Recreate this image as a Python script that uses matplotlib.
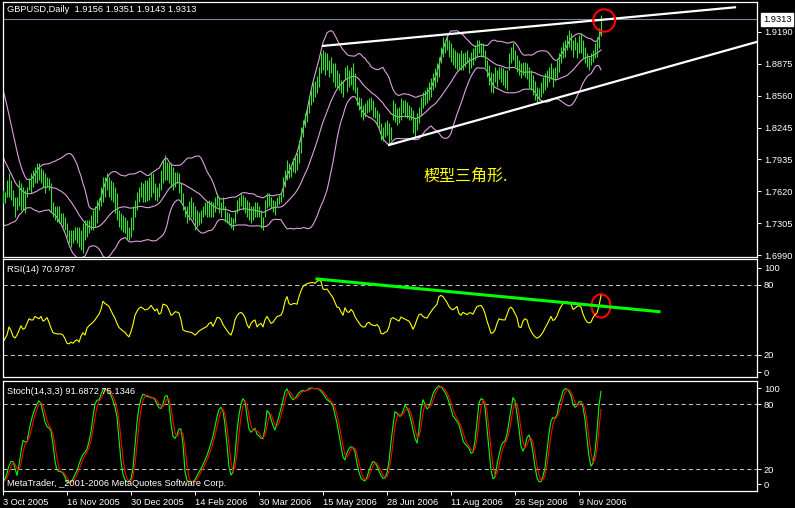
import matplotlib.pyplot as plt
import matplotlib.transforms as mtransforms
from matplotlib.patches import Ellipse
import numpy as np
import pandas as pd

plt.rcParams['font.family'] = ['Liberation Sans', 'Noto Sans CJK SC', 'DejaVu Sans']
FontSize = 6.7

# closes of the bars before the first visible one (only feed the Bollinger bands)
warmup_close = [1.850, 1.845, 1.842, 1.838, 1.832, 1.826, 1.818, 1.810, 1.800, 1.792,
                1.785, 1.778, 1.772, 1.768, 1.765, 1.762, 1.760, 1.758, 1.757]

high = [
    1.763, 1.761, 1.773, 1.780, 1.773, 1.763, 1.756, 1.756, 1.773, 1.770,
    1.766, 1.763, 1.766, 1.775, 1.780, 1.783, 1.786, 1.790, 1.790, 1.785,
    1.783, 1.780, 1.776, 1.775, 1.770, 1.751, 1.747, 1.747, 1.747, 1.741,
    1.741, 1.737, 1.731, 1.724, 1.724, 1.724, 1.727, 1.727, 1.727, 1.724,
    1.731, 1.734, 1.734, 1.734, 1.739, 1.744, 1.747, 1.753, 1.755, 1.766,
    1.776, 1.776, 1.780, 1.776, 1.773, 1.771, 1.766, 1.760, 1.744, 1.741,
    1.739, 1.737, 1.734, 1.727, 1.737, 1.747, 1.753, 1.761, 1.766, 1.771,
    1.770, 1.773, 1.773, 1.776, 1.780, 1.780, 1.770, 1.766, 1.770, 1.783,
    1.793, 1.798, 1.791, 1.790, 1.790, 1.786, 1.781, 1.781, 1.780, 1.770,
    1.760, 1.747, 1.747, 1.752, 1.756, 1.751, 1.747, 1.744, 1.742, 1.744,
    1.747, 1.751, 1.752, 1.753, 1.752, 1.751, 1.756, 1.760, 1.756, 1.751,
    1.756, 1.747, 1.742, 1.741, 1.737, 1.736, 1.744, 1.753, 1.756, 1.760,
    1.758, 1.756, 1.753, 1.751, 1.747, 1.747, 1.751, 1.751, 1.747, 1.744,
    1.737, 1.753, 1.760, 1.760, 1.756, 1.753, 1.752, 1.756, 1.758, 1.760,
    1.776, 1.783, 1.793, 1.790, 1.786, 1.795, 1.796, 1.800, 1.812, 1.825,
    1.832, 1.839, 1.844, 1.855, 1.862, 1.869, 1.870, 1.875, 1.884, 1.898,
    1.901, 1.899, 1.898, 1.891, 1.894, 1.888, 1.888, 1.881, 1.878, 1.871,
    1.871, 1.884, 1.886, 1.881, 1.884, 1.888, 1.878, 1.865, 1.855, 1.854,
    1.847, 1.849, 1.852, 1.854, 1.855, 1.852, 1.845, 1.842, 1.839, 1.829,
    1.825, 1.830, 1.832, 1.829, 1.825, 1.852, 1.849, 1.844, 1.845, 1.854,
    1.852, 1.852, 1.850, 1.847, 1.845, 1.842, 1.835, 1.839, 1.845, 1.855,
    1.860, 1.862, 1.865, 1.869, 1.873, 1.878, 1.883, 1.888, 1.894, 1.904,
    1.914, 1.911, 1.914, 1.911, 1.908, 1.903, 1.901, 1.899, 1.898, 1.901,
    1.898, 1.899, 1.901, 1.894, 1.899, 1.903, 1.906, 1.911, 1.911, 1.908,
    1.908, 1.901, 1.891, 1.886, 1.879, 1.878, 1.884, 1.881, 1.884, 1.884,
    1.883, 1.881, 1.881, 1.898, 1.904, 1.908, 1.901, 1.896, 1.891, 1.888,
    1.889, 1.889, 1.888, 1.884, 1.881, 1.876, 1.870, 1.865, 1.864, 1.869,
    1.874, 1.878, 1.881, 1.884, 1.888, 1.883, 1.884, 1.891, 1.898, 1.904,
    1.909, 1.911, 1.916, 1.921, 1.918, 1.911, 1.914, 1.909, 1.916, 1.918,
    1.911, 1.904, 1.898, 1.894, 1.898, 1.901, 1.908, 1.914, 1.923, 1.9351,
]

low = [
    1.750, 1.750, 1.756, 1.756, 1.753, 1.747, 1.737, 1.744, 1.747, 1.744,
    1.744, 1.741, 1.756, 1.763, 1.760, 1.766, 1.770, 1.770, 1.773, 1.770,
    1.766, 1.760, 1.766, 1.763, 1.742, 1.737, 1.734, 1.732, 1.731, 1.731,
    1.727, 1.724, 1.717, 1.711, 1.707, 1.711, 1.714, 1.711, 1.707, 1.704,
    1.701, 1.714, 1.717, 1.721, 1.724, 1.724, 1.727, 1.731, 1.744, 1.747,
    1.751, 1.756, 1.763, 1.756, 1.753, 1.751, 1.741, 1.734, 1.727, 1.724,
    1.722, 1.721, 1.714, 1.714, 1.717, 1.724, 1.737, 1.744, 1.751, 1.756,
    1.751, 1.751, 1.752, 1.753, 1.756, 1.760, 1.753, 1.752, 1.756, 1.763,
    1.770, 1.773, 1.773, 1.770, 1.766, 1.763, 1.766, 1.770, 1.760, 1.751,
    1.744, 1.737, 1.731, 1.734, 1.737, 1.734, 1.724, 1.727, 1.729, 1.731,
    1.737, 1.739, 1.737, 1.737, 1.737, 1.737, 1.742, 1.747, 1.741, 1.737,
    1.744, 1.732, 1.731, 1.729, 1.726, 1.724, 1.731, 1.741, 1.744, 1.747,
    1.744, 1.741, 1.737, 1.734, 1.731, 1.734, 1.737, 1.737, 1.737, 1.726,
    1.724, 1.737, 1.746, 1.747, 1.746, 1.742, 1.739, 1.747, 1.749, 1.751,
    1.756, 1.766, 1.773, 1.775, 1.776, 1.781, 1.780, 1.783, 1.790, 1.800,
    1.815, 1.825, 1.830, 1.839, 1.847, 1.850, 1.855, 1.859, 1.865, 1.878,
    1.881, 1.876, 1.881, 1.874, 1.878, 1.869, 1.865, 1.864, 1.862, 1.859,
    1.855, 1.872, 1.860, 1.865, 1.867, 1.862, 1.859, 1.847, 1.842, 1.835,
    1.832, 1.835, 1.839, 1.840, 1.842, 1.835, 1.834, 1.827, 1.824, 1.812,
    1.811, 1.815, 1.817, 1.808, 1.812, 1.832, 1.830, 1.827, 1.829, 1.832,
    1.839, 1.835, 1.834, 1.832, 1.832, 1.819, 1.815, 1.822, 1.829, 1.837,
    1.844, 1.847, 1.849, 1.852, 1.855, 1.862, 1.865, 1.869, 1.874, 1.888,
    1.894, 1.898, 1.901, 1.894, 1.889, 1.886, 1.883, 1.881, 1.881, 1.881,
    1.881, 1.884, 1.888, 1.878, 1.883, 1.886, 1.891, 1.894, 1.898, 1.894,
    1.894, 1.884, 1.874, 1.867, 1.860, 1.859, 1.869, 1.865, 1.872, 1.869,
    1.867, 1.864, 1.862, 1.881, 1.888, 1.891, 1.884, 1.879, 1.876, 1.873,
    1.876, 1.874, 1.872, 1.864, 1.862, 1.857, 1.852, 1.850, 1.852, 1.855,
    1.859, 1.862, 1.865, 1.869, 1.872, 1.865, 1.870, 1.873, 1.879, 1.888,
    1.893, 1.894, 1.901, 1.904, 1.901, 1.894, 1.901, 1.893, 1.898, 1.898,
    1.893, 1.888, 1.884, 1.881, 1.886, 1.889, 1.893, 1.894, 1.903, 1.9143,
]

close = [
    1.757, 1.758, 1.770, 1.762, 1.758, 1.750, 1.745, 1.752, 1.768, 1.750,
    1.762, 1.755, 1.764, 1.772, 1.768, 1.778, 1.780, 1.778, 1.786, 1.775,
    1.779, 1.768, 1.773, 1.767, 1.745, 1.742, 1.740, 1.739, 1.737, 1.736,
    1.730, 1.727, 1.720, 1.715, 1.718, 1.716, 1.722, 1.716, 1.712, 1.718,
    1.725, 1.720, 1.730, 1.731, 1.735, 1.738, 1.742, 1.748, 1.752, 1.762,
    1.772, 1.768, 1.770, 1.766, 1.760, 1.755, 1.748, 1.740, 1.733, 1.731,
    1.728, 1.726, 1.720, 1.718, 1.732, 1.742, 1.750, 1.757, 1.762, 1.765,
    1.762, 1.760, 1.763, 1.766, 1.772, 1.765, 1.760, 1.764, 1.760, 1.778,
    1.786, 1.785, 1.784, 1.776, 1.772, 1.775, 1.777, 1.776, 1.764, 1.754,
    1.746, 1.741, 1.738, 1.744, 1.748, 1.740, 1.735, 1.737, 1.740, 1.741,
    1.743, 1.745, 1.748, 1.750, 1.742, 1.746, 1.752, 1.755, 1.746, 1.749,
    1.746, 1.736, 1.734, 1.731, 1.729, 1.733, 1.742, 1.750, 1.753, 1.755,
    1.752, 1.746, 1.741, 1.738, 1.741, 1.743, 1.745, 1.740, 1.742, 1.738,
    1.735, 1.750, 1.754, 1.751, 1.749, 1.750, 1.751, 1.753, 1.754, 1.757,
    1.773, 1.779, 1.785, 1.779, 1.781, 1.790, 1.788, 1.797, 1.808, 1.820,
    1.828, 1.832, 1.840, 1.851, 1.858, 1.862, 1.864, 1.872, 1.880, 1.893,
    1.895, 1.882, 1.889, 1.879, 1.885, 1.872, 1.870, 1.868, 1.866, 1.862,
    1.858, 1.880, 1.868, 1.870, 1.877, 1.872, 1.862, 1.852, 1.846, 1.842,
    1.840, 1.844, 1.847, 1.846, 1.845, 1.843, 1.844, 1.833, 1.827, 1.818,
    1.817, 1.820, 1.822, 1.823, 1.824, 1.846, 1.843, 1.840, 1.838, 1.848,
    1.846, 1.845, 1.844, 1.843, 1.838, 1.825, 1.832, 1.837, 1.843, 1.845,
    1.852, 1.850, 1.858, 1.862, 1.866, 1.872, 1.876, 1.880, 1.892, 1.898,
    1.902, 1.900, 1.903, 1.899, 1.894, 1.893, 1.895, 1.897, 1.886, 1.885,
    1.891, 1.889, 1.890, 1.891, 1.890, 1.888, 1.896, 1.902, 1.903, 1.903,
    1.898, 1.889, 1.878, 1.871, 1.864, 1.866, 1.870, 1.877, 1.876, 1.875,
    1.875, 1.876, 1.879, 1.892, 1.895, 1.893, 1.888, 1.884, 1.875, 1.878,
    1.884, 1.885, 1.883, 1.870, 1.866, 1.862, 1.858, 1.856, 1.858, 1.860,
    1.864, 1.869, 1.873, 1.877, 1.882, 1.876, 1.878, 1.883, 1.890, 1.896,
    1.899, 1.900, 1.901, 1.905, 1.903, 1.898, 1.902, 1.903, 1.905, 1.902,
    1.897, 1.892, 1.889, 1.887, 1.889, 1.895, 1.897, 1.910, 1.916, 1.9313,
]

rsi = [
    31, 34, 37, 44, 41, 36, 34.5, 37, 41, 45,
    42, 43, 47, 51, 50, 50, 53, 52, 51, 53,
    49, 50, 52, 48, 43, 39, 38.5, 38, 38, 38,
    37, 34, 30, 29.5, 31, 30, 32, 33, 31, 36,
    39, 37, 43, 45, 46.5, 48, 50, 52.5, 55, 59,
    66, 64, 63, 61.5, 58, 54.5, 51.4, 47, 43.5, 42,
    40.5, 39.4, 37, 35.5, 40, 46, 54, 57.5, 60, 61,
    60, 58.5, 59, 60, 62.5, 60, 57.7, 59.5, 55, 56,
    63.5, 63, 62, 58.5, 54, 55, 57, 56.7, 56, 50,
    41.5, 40.5, 40, 39.7, 39.4, 38.5, 37, 38.5, 40.5, 41.5,
    42.7, 43.5, 44.5, 47, 48, 44.5, 48, 52, 52, 50,
    46, 43.5, 41, 38.5, 37, 42, 50, 53.5, 55.7, 56.4,
    55, 52, 46, 43, 47, 49, 50, 44, 46, 47,
    44, 50, 53, 50, 47, 48, 50.5, 52.8, 53.5, 54,
    58, 66, 70, 64, 63, 64, 64, 63.5, 70, 75,
    78.5, 80, 81, 81.5, 82, 82, 81.4, 83, 84, 83,
    76.5, 76, 76.5, 74, 71.5, 69, 65, 61, 60.5, 57,
    54, 60.5, 57, 56.5, 59, 57, 52.8, 50, 47.5, 45,
    44, 44, 47, 48, 46, 45.5, 45, 46, 44, 38.5,
    38, 39.4, 40, 44, 51, 52, 51, 50, 49, 52.5,
    51.5, 50.7, 50, 49, 46, 42, 45.5, 50.5, 54.5, 55,
    53, 52, 51.5, 54.5, 57, 59.5, 61.5, 63.5, 70, 71,
    70, 67.5, 65, 61.5, 59.5, 58.7, 60, 61.5, 55.5, 54,
    56.5, 55.5, 54.5, 56, 56, 55, 58.5, 61.5, 62, 62.5,
    60, 55.7, 49, 44, 38.5, 39, 41.4, 47, 51, 50.3,
    50, 50, 54.5, 59.5, 61, 59, 55.5, 52, 44, 43.5,
    49, 51, 50, 44, 40.5, 37.5, 35.5, 34.3, 35.3, 37,
    39.5, 43, 46, 49.5, 53, 49.5, 50.5, 53.5, 58, 61.5,
    64, 65, 65.5, 64.7, 63.5, 59, 60, 61.5, 62.3, 61,
    55, 51, 48.3, 47.3, 48, 52, 54.5, 56, 62, 70.98,
]

stoch_k = [
    8, 11, 16, 23, 27, 27, 20.7, 14, 24, 36,
    46.5, 45, 45, 55, 64, 70.5, 76, 80, 83, 80.5,
    72, 63.5, 59, 58, 55, 43, 27, 19, 17.7, 17.5,
    16, 12.5, 8, 7, 7.8, 11, 15, 18.5, 24.5, 29.5,
    33.5, 35.5, 38.5, 45.5, 54.5, 69, 80, 83.7, 83.7, 89,
    93.5, 94, 92.5, 90.5, 88, 83, 77, 68, 48, 27,
    15, 10, 8.3, 8.3, 11, 21, 42, 63, 77, 85,
    89, 88.5, 86.8, 86.8, 85.7, 86, 84, 80, 76.5, 76,
    80, 87, 88, 80, 62, 50, 48.4, 51.5, 57, 57,
    43, 17.5, 9.5, 8.3, 8.3, 8.5, 10, 14, 17, 20.5,
    24, 28.4, 32.5, 38, 44, 50.5, 59, 68.5, 75, 77,
    74, 60.7, 42, 22, 14.5, 17, 33, 55, 70, 80,
    85, 82.2, 69, 57, 54, 56, 57.6, 52, 50.5, 48.5,
    48, 57.6, 74, 72, 66, 60, 56, 62.5, 69, 76,
    83.5, 91.4, 94, 90, 86, 84, 85.3, 88, 90.5, 92,
    92.8, 92, 92.8, 94.5, 94.8, 94.5, 94, 94.5, 93.5, 92,
    89.5, 86.8, 84, 82.8, 81, 78, 70, 62, 52, 41,
    31, 28.4, 35, 39, 40.6, 40, 36, 25, 17, 11.5,
    9.8, 9, 12.5, 18.5, 23.5, 27, 26, 22.5, 18, 14,
    11.5, 11.5, 16.5, 27, 45, 60, 73, 71.7, 69, 69,
    73.5, 79, 76.5, 72, 65, 56, 48.4, 44, 57, 75,
    84, 80, 75.5, 77, 83, 89.5, 93, 95.5, 96.8, 95.8,
    93.5, 91, 87, 81.5, 75.5, 69, 66.5, 64, 60.5, 54,
    46, 43, 41.5, 39, 34.5, 35.5, 46, 64, 81, 85,
    84, 77, 57, 38, 19, 11, 12.5, 24, 33, 41,
    44.5, 46, 52, 64, 75, 86, 83, 71, 57, 41,
    36.5, 41, 49, 51.5, 46, 35, 22, 12, 8.3, 8.3,
    13.5, 21, 37, 53, 64.5, 67.5, 67, 70, 80, 85,
    92, 94.2, 94, 91.5, 88, 80, 77, 78.5, 82, 82.5,
    77, 66, 48, 32, 22.5, 25.5, 36, 55, 78.7, 91.6872,
]

date_labels = ['3 Oct 2005', '16 Nov 2005', '30 Dec 2005', '14 Feb 2006', '30 Mar 2006',
               '15 May 2006', '28 Jun 2006', '11 Aug 2006', '26 Sep 2006', '9 Nov 2006']
date_bars = [0, 32, 64, 96, 128, 160, 192, 224, 256, 288]
price_ticks = [1.9190, 1.8875, 1.8560, 1.8245, 1.7935, 1.7620, 1.7305, 1.6990]

# hand drawn lines: (bar index, value) at both ends
upper_line = ([160, 366], [1.905, 1.943])
lower_line = ([193, 377], [1.8075, 1.909])
rsi_line = ([157, 328], [85.1, 57.1])

bars = np.arange(len(close))
closes = pd.Series(warmup_close + close)
n0 = len(warmup_close)
bb_mid = closes.rolling(20).mean().values[n0:]
bb_sd = closes.rolling(20).std(ddof=0).values[n0:]
stoch_d = pd.Series(stoch_k).rolling(3, min_periods=1).mean().values

fig = plt.figure(figsize=(7.95, 5.08), dpi=100, facecolor='black')
ax1 = fig.add_axes([3 / 795, 251 / 508, 754 / 795, 255 / 508])
ax2 = fig.add_axes([3 / 795, 131 / 508, 754 / 795, 118 / 508])
ax3 = fig.add_axes([3 / 795, 17 / 508, 754 / 795, 110 / 508])

for ax in (ax1, ax2, ax3):
    ax.set_facecolor('black')
    for s in ax.spines.values():
        s.set_color('white')
        s.set_linewidth(0.9)
    ax.set_xlim(0, 377)
    ax.yaxis.tick_right()
    ax.tick_params(axis='y', colors='white', length=3, width=0.7, pad=2, labelsize=FontSize)
    ax.tick_params(axis='x', colors='white', length=3, width=0.7, pad=2, labelsize=FontSize)

# main chart
ax1.axhline(close[-1], color='#778899', lw=0.8, zorder=1)
ax1.plot(bars, bb_mid, color='plum', lw=0.8, zorder=2)
ax1.plot(bars, bb_mid + 2 * bb_sd, color='plum', lw=0.8, zorder=2)
ax1.plot(bars, bb_mid - 2 * bb_sd, color='plum', lw=0.8, zorder=2)
ax1.vlines(bars, low, high, color='#34e034', lw=0.8, zorder=3)
ax1.plot(upper_line[0], upper_line[1], color='white', lw=1.6, zorder=4)
ax1.plot(lower_line[0], lower_line[1], color='white', lw=1.6, zorder=4)
ax1.add_patch(Ellipse((300.6, 1.930), 10.9, 0.022, fill=False, ec='red', lw=1.5, zorder=5))
ax1.set_ylim(1.6973, 1.9482)
ax1.set_xticks([])
ax1.set_yticks(price_ticks, ['%.4f' % p for p in price_ticks])
ax1.text(0.0053, 0.969, 'GBPUSD,Daily  1.9156 1.9351 1.9143 1.9313', transform=ax1.transAxes,
         color='white', fontsize=FontSize, va='center')
ax1.text(210, 1.777, '楔型三角形.', color='yellow', fontsize=11.5, va='center',
         family=['Noto Sans CJK SC', 'DejaVu Sans'])
trans = mtransforms.blended_transform_factory(ax1.transAxes, ax1.transData)
ax1.text(1.008, close[-1], '%.4f' % close[-1], transform=trans, color='black', fontsize=FontSize,
         va='center', ha='left', bbox=dict(boxstyle='square,pad=0.2', fc='white', ec='white'))

# RSI
ax2.axhline(80, color='#c0c0c0', lw=0.75, ls=(0, (4, 3)))
ax2.axhline(20, color='#c0c0c0', lw=0.75, ls=(0, (4, 3)))
ax2.plot(bars, rsi, color='yellow', lw=0.8)
ax2.plot(rsi_line[0], rsi_line[1], color='#00ff00', lw=2.2)
ax2.add_patch(Ellipse((299, 62), 9.5, 20, fill=False, ec='red', lw=1.5))
ax2.set_ylim(1.1, 102.2)
ax2.set_xticks([])
ax2.set_yticks([94.8, 80, 20, 5.1], ['100', '80', '20', '0'])
ax2.text(0.0053, 0.907, 'RSI(14) 70.9787', transform=ax2.transAxes, color='white',
         fontsize=FontSize, va='center')

# Stochastic
ax3.axhline(80, color='#c0c0c0', lw=0.75, ls=(0, (4, 3)))
ax3.axhline(20, color='#c0c0c0', lw=0.75, ls=(0, (4, 3)))
ax3.plot(bars, stoch_k, color='#00ff00', lw=0.8)
ax3.plot(bars, stoch_d, color='red', lw=0.8)
ax3.set_ylim(-0.3, 101.3)
ax3.set_yticks([94.8, 80, 20, 5.9], ['100', '80', '20', '0'])
ax3.set_xticks(date_bars, date_labels)
for lbl in ax3.get_xticklabels():
    lbl.set_horizontalalignment('left')
ax3.text(0.0053, 0.909, 'Stoch(14,3,3) 91.6872 75.1346', transform=ax3.transAxes, color='white',
         fontsize=FontSize, va='center')
ax3.text(0.0053, 0.064, 'MetaTrader, _2001-2006 MetaQuotes Software Corp.', transform=ax3.transAxes,
         color='white', fontsize=FontSize, va='center')

plt.savefig('out.png', dpi=100, facecolor='black')
